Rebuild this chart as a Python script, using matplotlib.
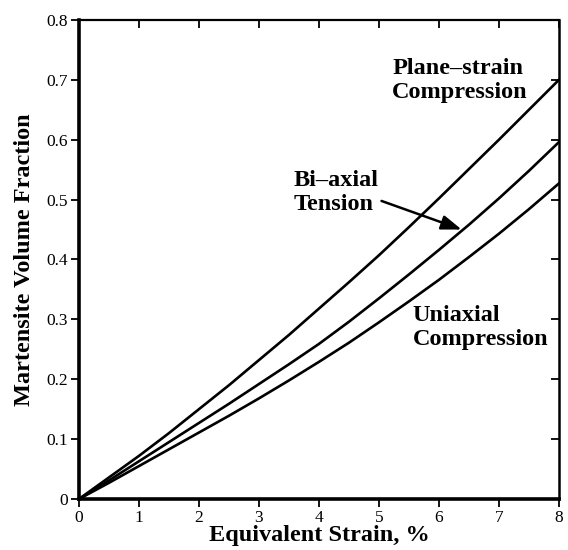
import matplotlib
matplotlib.use("Agg")
import matplotlib.pyplot as plt

# values (every 0.5 % strain)
strain = [0, 0.5, 1, 1.5, 2, 2.5, 3, 3.5, 4, 4.5, 5, 5.5, 6, 6.5, 7, 7.5, 8]
plane_strain = [0, 0.036, 0.072, 0.110, 0.150, 0.190, 0.232, 0.274, 0.318,
                0.362, 0.407, 0.454, 0.502, 0.551, 0.600, 0.650, 0.700]
biaxial = [0, 0.031, 0.063, 0.095, 0.127, 0.159, 0.192, 0.225, 0.259,
           0.296, 0.335, 0.375, 0.416, 0.458, 0.502, 0.548, 0.596]
uniaxial = [0, 0.027, 0.055, 0.083, 0.111, 0.139, 0.168, 0.198, 0.229,
            0.261, 0.295, 0.330, 0.366, 0.404, 0.443, 0.484, 0.527]

xticks = [0, 1, 2, 3, 4, 5, 6, 7, 8]
yticks = [0, 0.1, 0.2, 0.3, 0.4, 0.5, 0.6, 0.7, 0.8]
ytick_labels = ["0", "0.1", "0.2", "0.3", "0.4", "0.5", "0.6", "0.7", "0.8"]

plt.rcParams["font.family"] = ["Liberation Serif", "DejaVu Serif"]

fig = plt.figure(figsize=(5.68, 5.5), dpi=100)
ax = fig.add_axes([0.139, 0.0927, 0.845, 0.871])

for ys in (plane_strain, biaxial, uniaxial):
    ax.plot(strain, ys, color="black", lw=1.9, solid_joinstyle="round")

ax.set_xlim(0, 8)
ax.set_ylim(0, 0.8)
ax.set_xticks(xticks)
ax.set_yticks(yticks)
ax.set_yticklabels(ytick_labels)

ax.tick_params(axis="both", which="major", labelsize=12.5, length=6, width=1.3,
               direction="out", pad=2)
ax.tick_params(top=True, right=True)
for t in ax.xaxis.get_major_ticks():
    t.tick2line.set_marker(3)  # inward tick on top
for t in ax.yaxis.get_major_ticks():
    t.tick2line.set_marker(0)  # inward tick on right

ax.spines["left"].set_linewidth(2.6)
ax.spines["bottom"].set_linewidth(2.6)
ax.spines["top"].set_linewidth(1.6)
ax.spines["right"].set_linewidth(1.8)

ax.set_xlabel("Equivalent Strain, %", fontsize=17.5, fontweight="bold", labelpad=-1)
ax.set_ylabel("Martensite Volume Fraction", fontsize=17.5, fontweight="bold", labelpad=8)

lbl = dict(fontsize=17.5, fontweight="bold", ha="left", va="top", linespacing=1.2)
ax.text(5.22, 0.737, "Plane\u2013strain\nCompression", **lbl)
ax.text(5.56, 0.324, "Uniaxial\nCompression", **lbl)
ax.annotate("Bi\u2013axial\nTension", xy=(6.38, 0.45), xytext=(3.58, 0.549),
            textcoords="data", **lbl,
            arrowprops=dict(arrowstyle="-|>,head_length=0.7,head_width=0.25",
                            color="black", lw=1.8, shrinkA=0, shrinkB=0,
                            relpos=(1.02, 0.33)))

fig.savefig("out.png", dpi=100)
